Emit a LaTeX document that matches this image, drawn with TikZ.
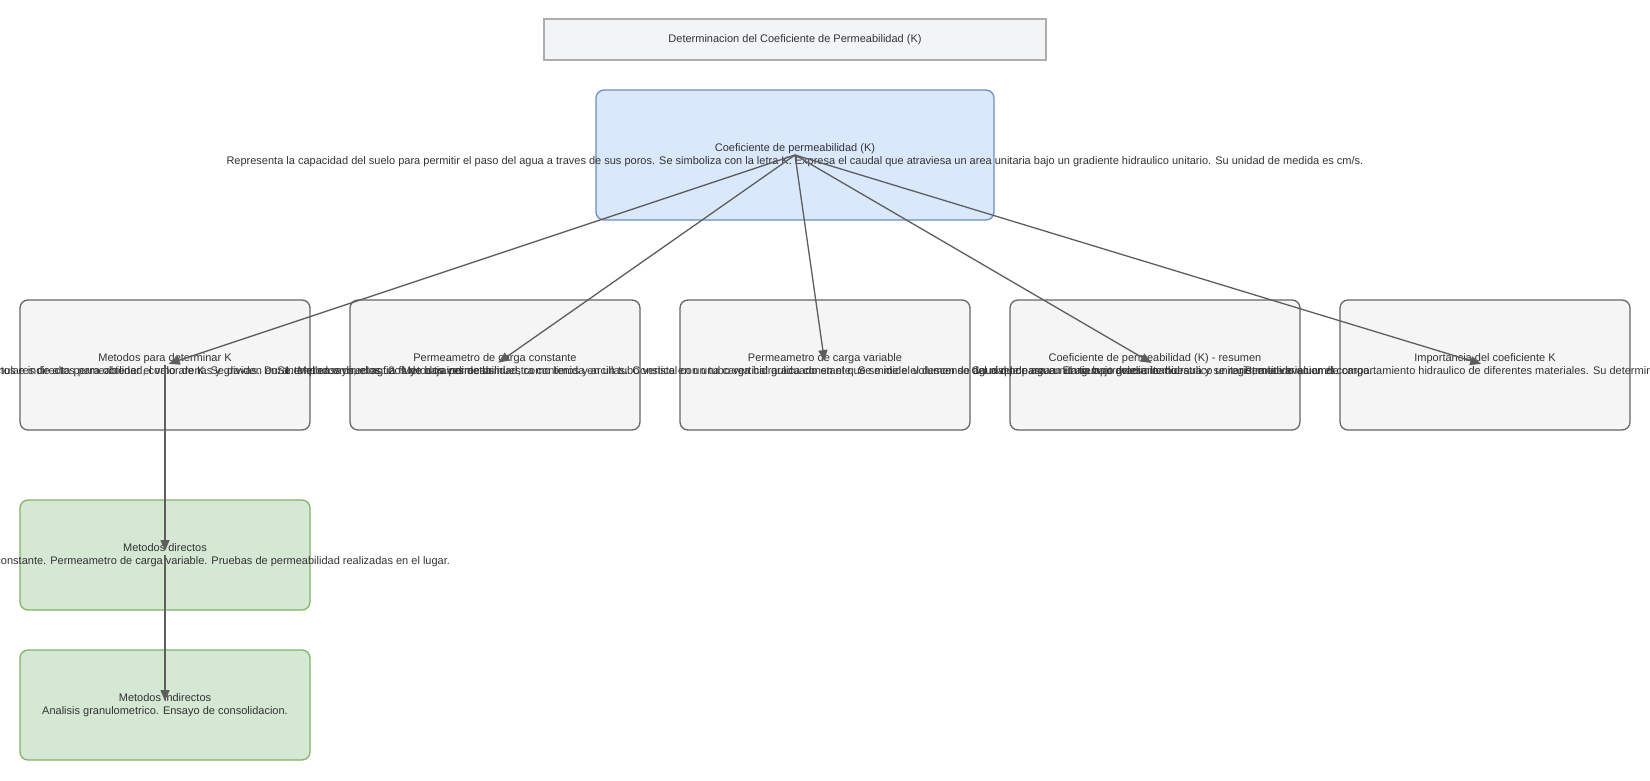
\documentclass[tikz,border=0pt]{standalone}
\usepackage{fontspec}
\setmainfont{Liberation Sans}
\usetikzlibrary{arrows.meta}
\definecolor{txt}{HTML}{333333}
\definecolor{titlefill}{HTML}{F3F4F6}
\definecolor{titleline}{HTML}{ADADAD}
\definecolor{bluefill}{HTML}{DAE8FC}
\definecolor{blueline}{HTML}{6C8EBF}
\definecolor{greyfill}{HTML}{F5F5F5}
\definecolor{greyline}{HTML}{666666}
\definecolor{greenfill}{HTML}{D5E8D4}
\definecolor{greenline}{HTML}{82B366}
\definecolor{edgecol}{HTML}{5E5E5E}
\tikzset{
  lbl/.style={font=\fontsize{11}{13}\selectfont, text=txt, align=center, inner sep=0pt},
  boxbase/.style={inner sep=0pt, line width=1.3pt, rounded corners=8pt},
  titlebox/.style={draw=titleline, fill=titlefill, line width=1.6pt, inner sep=0pt, minimum width=502pt, minimum height=41pt},
  mainbox/.style={boxbase, draw=blueline, fill=bluefill, minimum width=398pt, minimum height=130pt},
  rowbox/.style={boxbase, draw=greyline, fill=greyfill, minimum width=290pt, minimum height=130pt},
  greenbox/.style={boxbase, draw=greenline, fill=greenfill, minimum width=290pt, minimum height=110pt},
  conn/.style={draw=edgecol, line width=1.3pt, shorten >=4pt, -{Triangle[length=11pt,width=9pt]}}
}
\begin{document}
\begin{tikzpicture}[x=1pt,y=-1pt]
\useasboundingbox (0,0) rectangle (1650,780);
\fill[white] (0,0) rectangle (1650,780);

% title
\node[titlebox, lbl] (title) at (795,39.5) {Determinacion del Coeficiente de Permeabilidad (K)};

% main box
\node[mainbox] (main) at (795,155) {};
\node[lbl] (mainlbl) at (main.center) {Coeficiente de permeabilidad (K)\\Representa la capacidad del suelo para permitir el paso del agua a traves de sus poros. Se simboliza con la letra K. Expresa el caudal que atraviesa un area unitaria bajo un gradiente hidraulico unitario. Su unidad de medida es cm/s.};

% row boxes
\node[rowbox] (r1) at (165,365) {};
\node[rowbox] (r2) at (495,365) {};
\node[rowbox] (r3) at (825,365) {};
\node[rowbox] (r4) at (1155,365) {};
\node[rowbox] (r5) at (1485,365) {};

% green boxes
\node[greenbox] (g1) at (165,555) {};
\node[greenbox] (g2) at (165,705) {};

% labels
\node[lbl] (r1lbl) at (r1.center) {Metodos para determinar K\\Se pueden emplear metodos directos e indirectos para obtener el valor de K. Se dividen en: 1. Metodos directos. 2. Metodos indirectos.};
\node[lbl] (r2lbl) at (r2.center) {Permeametro de carga constante\\Se utiliza principalmente en suelos granulares de alta permeabilidad, como arenas y gravas. Durante el ensayo, el agua fluye a traves de la muestra contenida en un tubo vertical con una carga hidraulica constante. Se mide el volumen de agua que pasa en un tiempo determinado.};
\node[lbl] (r3lbl) at (r3.center) {Permeametro de carga variable\\Se emplea en suelos finos de baja permeabilidad, como limos y arcillas. Consiste en un tubo vertical graduado en el que se mide el descenso del nivel de agua. El agua atraviesa la muestra y se registra la variacion de carga.};
\node[lbl] (r4lbl) at (r4.center) {Coeficiente de permeabilidad (K) - resumen\\Caudal por area unitaria bajo gradiente hidraulico unitario, medido en cm/s.};
\node[lbl] (r5lbl) at (r5.center) {Importancia del coeficiente K\\Permite evaluar el comportamiento hidraulico de diferentes materiales. Su determinacion es clave.};
\node[lbl] (g1lbl) at (g1.center) {Metodos directos\\Permeametro de carga constante. Permeametro de carga variable. Pruebas de permeabilidad realizadas en el lugar.};
\node[lbl] (g2lbl) at (g2.center) {Metodos indirectos\\Analisis granulometrico. Ensayo de consolidacion.};

% connectors
\draw[conn] (main.center) -- (r1.center);
\draw[conn] (main.center) -- (r2.center);
\draw[conn] (main.center) -- (r3.center);
\draw[conn] (main.center) -- (r4.center);
\draw[conn] (main.center) -- (r5.center);
\draw[conn] (r1.center) -- (g1.center);
\draw[conn] (g1.center) -- (g2.center);
\end{tikzpicture}
\end{document}
